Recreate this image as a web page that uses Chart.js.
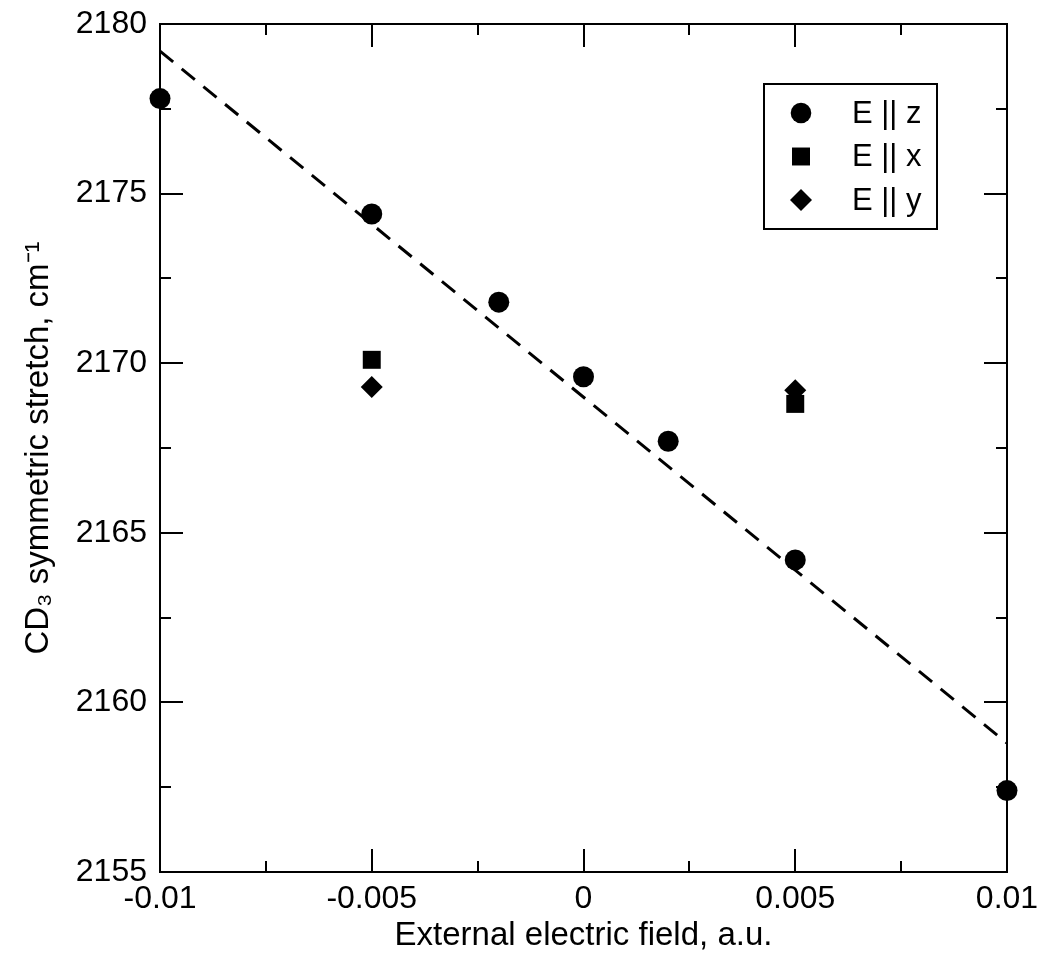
<!DOCTYPE html>
<html>
<head>
<meta charset="utf-8">
<script src="https://cdn.jsdelivr.net/npm/chart.js@4/dist/chart.umd.min.js"></script>
<style>
  html, body { margin: 0; padding: 0; background: #fff; }
</style>
</head>
<body>
<canvas id="myChart" width="1050" height="959"></canvas>
<script>
// values
const fieldZ = [-0.01, -0.005, -0.002, 0, 0.002, 0.005, 0.01];
const stretchZ = [2177.8, 2174.4, 2171.8, 2169.6, 2167.7, 2164.2, 2157.4];
const fieldXY = [-0.005, 0.005];
const stretchX = [2170.1, 2168.8];
const stretchY = [2169.3, 2169.2];
const fitField = [-0.01, 0.01];
const fitStretch = [2179.2, 2158.8];
const seriesLabels = ['E || z', 'E || x', 'E || y'];

const FONT = '"Liberation Sans", Arial, Helvetica, sans-serif';

function toPoints(xs, ys) {
    return xs.map((x, i) => ({ x: x, y: ys[i] }));
}

// frame with inward major + minor ticks on all four sides
const frameTicks = {
    id: 'frameTicks',
    beforeDatasetsDraw(chart) {
        const ctx = chart.ctx;
        const a = chart.chartArea;
        const xs = chart.scales.x, ys = chart.scales.y;
        ctx.save();
        ctx.strokeStyle = '#000';
        ctx.lineWidth = 2;
        ctx.strokeRect(a.left, a.top, a.right - a.left, a.bottom - a.top);

        function ticksOf(scale) {
            const major = scale.ticks.map(t => t.value);
            const minor = [];
            for (let i = 0; i < major.length - 1; i++) minor.push((major[i] + major[i + 1]) / 2);
            return { major, minor };
        }
        const big = 23, small = 11;
        ctx.beginPath();
        const tx = ticksOf(xs);
        [[tx.major, big], [tx.minor, small]].forEach(([vals, len]) => {
            vals.forEach(v => {
                const p = Math.round(xs.getPixelForValue(v));
                ctx.moveTo(p, a.bottom); ctx.lineTo(p, a.bottom - len);
                ctx.moveTo(p, a.top); ctx.lineTo(p, a.top + len);
            });
        });
        const ty = ticksOf(ys);
        [[ty.major, big], [ty.minor, small]].forEach(([vals, len]) => {
            vals.forEach(v => {
                const p = Math.round(ys.getPixelForValue(v));
                ctx.moveTo(a.left, p); ctx.lineTo(a.left + len, p);
                ctx.moveTo(a.right, p); ctx.lineTo(a.right - len, p);
            });
        });
        ctx.stroke();
        ctx.restore();
    }
};

// boxed legend in the upper right of the plot
const boxLegend = {
    id: 'boxLegend',
    afterDraw(chart) {
        const ctx = chart.ctx;
        const a = chart.chartArea;
        const right = a.right - 70, top = a.top + 60;
        const w = 173, h = 145;
        const left = right - w;
        ctx.save();
        ctx.fillStyle = '#fff';
        ctx.fillRect(left, top, w, h);
        ctx.strokeStyle = '#000';
        ctx.lineWidth = 2;
        ctx.strokeRect(left, top, w, h);
        const items = chart.data.datasets.filter(d => d.inLegend);
        items.forEach((d, i) => {
            const y = top + 29 + i * 43.5;
            ctx.fillStyle = '#000';
            Chart.helpers.drawPoint(ctx, {
                pointStyle: d.pointStyle,
                radius: d.legendRadius,
                rotation: 0,
                borderWidth: 0
            }, left + 37, y);
            ctx.font = '31px ' + FONT;
            ctx.textBaseline = 'middle';
            ctx.textAlign = 'left';
            ctx.fillText(d.label, left + 88, y + 1);
        });
        ctx.restore();
    }
};

const ctx = document.getElementById('myChart').getContext('2d');
const chart = new Chart(ctx, {
    type: 'scatter',
    data: {
        datasets: [
            {
                type: 'line',
                label: 'fit',
                data: toPoints(fitField, fitStretch),
                borderColor: '#000',
                borderWidth: 3,
                borderDash: [17, 11],
                pointRadius: 0,
                fill: false,
                clip: false
            },
            {
                label: seriesLabels[0],
                inLegend: true,
                data: toPoints(fieldZ, stretchZ),
                pointStyle: 'circle',
                pointRadius: 10.5,
                legendRadius: 10.3,
                backgroundColor: '#000',
                borderColor: '#000',
                borderWidth: 0,
                clip: false
            },
            {
                label: seriesLabels[1],
                inLegend: true,
                data: toPoints(fieldXY, stretchX),
                pointStyle: 'rect',
                pointRadius: 12.7,
                legendRadius: 12.7,
                backgroundColor: '#000',
                borderColor: '#000',
                borderWidth: 0,
                clip: false
            },
            {
                label: seriesLabels[2],
                inLegend: true,
                data: toPoints(fieldXY, stretchY),
                pointStyle: 'rectRot',
                pointRadius: 11,
                legendRadius: 11,
                backgroundColor: '#000',
                borderColor: '#000',
                borderWidth: 0,
                clip: false
            }
        ]
    },
    options: {
        responsive: false,
        animation: false,
        layout: { padding: { top: 24, right: 43, left: 0, bottom: 0 } },
        plugins: {
            legend: { display: false },
            tooltip: { enabled: false }
        },
        scales: {
            x: {
                type: 'linear',
                min: -0.01,
                max: 0.01,
                grid: { display: false, drawTicks: false },
                border: { display: false },
                ticks: {
                    stepSize: 0.005,
                    color: '#000',
                    padding: 8,
                    maxRotation: 0,
                    font: { family: FONT, size: 32 },
                    callback: v => String(Number(v.toFixed(4)))
                },
                title: {
                    display: true,
                    text: 'External electric field, a.u.',
                    color: '#000',
                    font: { family: FONT, size: 33 },
                    padding: { top: 0, bottom: 3 }
                },
                afterFit: s => { s.height = 87; }
            },
            y: {
                type: 'linear',
                min: 2155,
                max: 2180,
                grid: { display: false, drawTicks: false },
                border: { display: false },
                ticks: {
                    stepSize: 5,
                    color: '#000',
                    padding: 13,
                    font: { family: FONT, size: 32 },
                    callback: v => String(v)
                },
                title: {
                    display: true,
                    text: 'CD\u2083 symmetric stretch, cm\u207B\u00B9',
                    color: '#000',
                    font: { family: FONT, size: 33 },
                    padding: { top: 19, bottom: 0 }
                },
                afterFit: s => {
                    s.width = 160;
                    s.paddingTop = 0;
                    s.paddingBottom = 0;
                }
            }
        }
    },
    plugins: [frameTicks, boxLegend]
});
</script>
</body>
</html>
